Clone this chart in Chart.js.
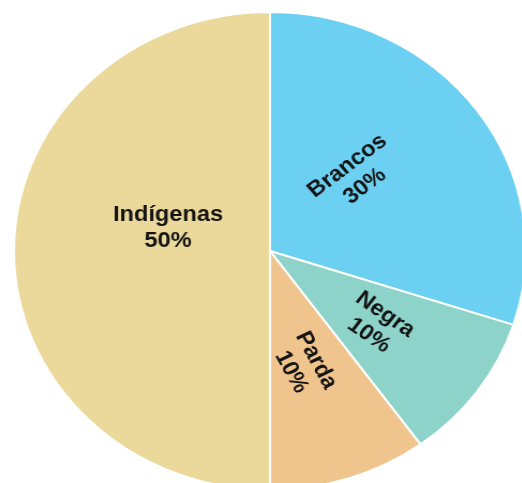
<!DOCTYPE html>
<html>
<head>
<meta charset="utf-8">
<script src="https://cdn.jsdelivr.net/npm/chart.js@4"></script>
<style>
  html, body { margin: 0; padding: 0; background: #fff; width: 522px; height: 483px; overflow: hidden; }
  #wrap { position: absolute; left: 30px; top: 11px; width: 480px; height: 480px;
          transform: scaleX(1.0711); transform-origin: 240px 240px; }
</style>
</head>
<body>
<div id="wrap"><canvas id="c"></canvas></div>
<script>
// Data
const categories = ["Brancos", "Negra", "Parda", "Indígenas"];
const values = [30, 10, 10, 50];
const percentLabels = ["30%", "10%", "10%", "50%"];
const sliceColors = ["#6BD0F1", "#8DD3CA", "#EFC48D", "#EBD89B"];

// Label placement (radius fraction, angle shift in degrees, text rotation in degrees)
const labelPlacement = [
  { r: 0.46, da: -7, rot: -39 },
  { r: 0.52, da: 0.5, rot: 36 },
  { r: 0.50, da: 2.7, rot: 63 },
  { r: 0.41, da: 13.7, rot: 0 }
];

const labelPlugin = {
  id: 'sliceLabels',
  afterDatasetsDraw(chart) {
    const ctx = chart.ctx;
    const meta = chart.getDatasetMeta(0);
    meta.data.forEach((arc, i) => {
      const p = labelPlacement[i];
      const mid = (arc.startAngle + arc.endAngle) / 2 + p.da * Math.PI / 180;
      const rr = arc.outerRadius * p.r;
      const x = arc.x + Math.cos(mid) * rr;
      const y = arc.y + Math.sin(mid) * rr;
      ctx.save();
      ctx.translate(x, y);
      ctx.rotate(p.rot * Math.PI / 180);
      ctx.fillStyle = '#141414';
      ctx.font = 'bold 22px "Liberation Sans", Arial, sans-serif';
      ctx.textAlign = 'center';
      ctx.textBaseline = 'middle';
      const lh = 26;
      ctx.fillText(categories[i], 0, -lh / 2);
      ctx.fillText(percentLabels[i], 0, lh / 2);
      ctx.restore();
    });
  }
};

new Chart(document.getElementById('c'), {
  type: 'pie',
  data: {
    labels: categories,
    datasets: [{
      data: values,
      backgroundColor: sliceColors,
      borderColor: '#ffffff',
      borderWidth: 2
    }]
  },
  options: {
    responsive: true,
    maintainAspectRatio: false,
    animation: false,
    layout: { padding: 0 },
    plugins: {
      legend: { display: false },
      tooltip: { enabled: false }
    }
  },
  plugins: [labelPlugin]
});
</script>
</body>
</html>
